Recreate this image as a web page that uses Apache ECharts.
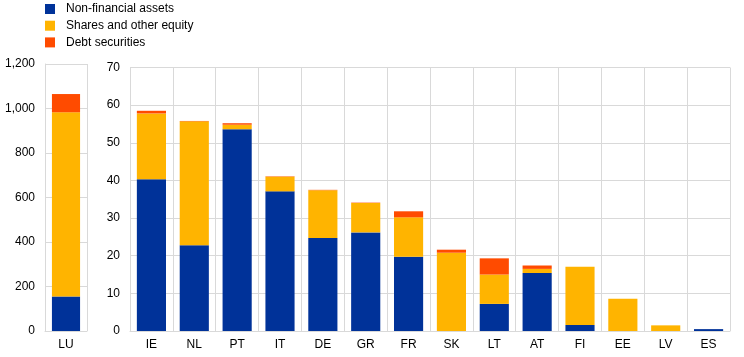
<!DOCTYPE html>
<html>
<head>
<meta charset="utf-8">
<script src="https://cdn.jsdelivr.net/npm/echarts@6/dist/echarts.min.js"></script>
<style>html,body{margin:0;padding:0;background:#fff}#c{width:744px;height:357px}</style>
</head>
<body>
<div id="c"></div>
<script>
const seriesNames = ['Non-financial assets', 'Shares and other equity', 'Debt securities'];
const leftCategories = ['LU'];
const leftNonFinancial = [155];
const leftShares = [828];
const leftDebt = [82];
const rightCategories  = ['IE', 'NL', 'PT', 'IT', 'DE', 'GR', 'FR', 'SK', 'LT', 'AT', 'FI', 'EE', 'LV', 'ES'];
const rightNonFinancial = [40.3, 22.8, 53.6, 37.1, 24.7, 26.2, 19.7, 0,    7.2, 15.4, 1.6,  0,   0,   0.5];
const rightShares       = [17.5, 32.9, 1.2,  3.9,  12.7, 7.8,  10.5, 20.8, 7.8, 1.1,  15.5, 8.6, 1.5, 0];
const rightDebt         = [0.7,  0.1,  0.4,  0.1,  0.1,  0.1,  1.6,  0.8,  4.3, 0.9,  0,    0,   0,   0];
const leftTicks = { min: 0, max: 1200, interval: 200 };
const rightTicks = { min: 0, max: 70, interval: 10 };
const colors = ['#003299', '#FFB400', '#FF4B00'];
</script>
<script>
const chart = echarts.init(document.getElementById('c'), null, { renderer: 'canvas' });
const grey = '#d9d9d9';
const font = 'Liberation Sans, Arial, sans-serif';
const labelStyle = { color: '#000', fontSize: 12, fontFamily: font };
function catAxis(idx, data) {
  return {
    type: 'category', gridIndex: idx, data: data,
    axisLine: { show: true, lineStyle: { color: grey, width: 1 } },
    axisTick: { show: false },
    axisLabel: Object.assign({ margin: 8, interval: 0 }, labelStyle),
    splitLine: { show: true, lineStyle: { color: grey, width: 1 } }
  };
}
function valAxis(idx, t) {
  return {
    type: 'value', gridIndex: idx, min: t.min, max: t.max, interval: t.interval,
    axisLine: { show: true, lineStyle: { color: grey, width: 1 } },
    axisTick: { show: false },
    axisLabel: Object.assign({ margin: 10, formatter: v => v.toLocaleString('en-US') }, labelStyle),
    splitLine: { show: true, lineStyle: { color: grey, width: 1 } }
  };
}
function bars(name, xi, data, color, gap) {
  return {
    name: name, type: 'bar', stack: 's' + xi, xAxisIndex: xi, yAxisIndex: xi,
    data: data, barCategoryGap: gap, itemStyle: { color: color }, emphasis: { disabled: true }
  };
}
chart.setOption({
  animation: false,
  color: colors,
  textStyle: { fontFamily: font },
  legend: {
    orient: 'vertical', left: 45, top: 3, padding: 0, itemWidth: 10, itemHeight: 10, itemGap: 4.7,
    icon: 'rect', data: seriesNames,
    textStyle: { color: '#000', fontSize: 12, fontFamily: font, padding: [0, 0, 0, 6] }
  },
  grid: [
    { left: 45, top: 64, width: 42, bottom: 26 },
    { left: 130, top: 67.5, right: 14, bottom: 26 }
  ],
  xAxis: [catAxis(0, leftCategories), catAxis(1, rightCategories)],
  yAxis: [valAxis(0, leftTicks), valAxis(1, rightTicks)],
  series: [
    bars(seriesNames[0], 0, leftNonFinancial, colors[0], '33%'),
    bars(seriesNames[1], 0, leftShares, colors[1], '33%'),
    bars(seriesNames[2], 0, leftDebt, colors[2], '33%'),
    bars(seriesNames[0], 1, rightNonFinancial, colors[0], '32%'),
    bars(seriesNames[1], 1, rightShares, colors[1], '32%'),
    bars(seriesNames[2], 1, rightDebt, colors[2], '32%')
  ]
});
</script>
</body>
</html>
